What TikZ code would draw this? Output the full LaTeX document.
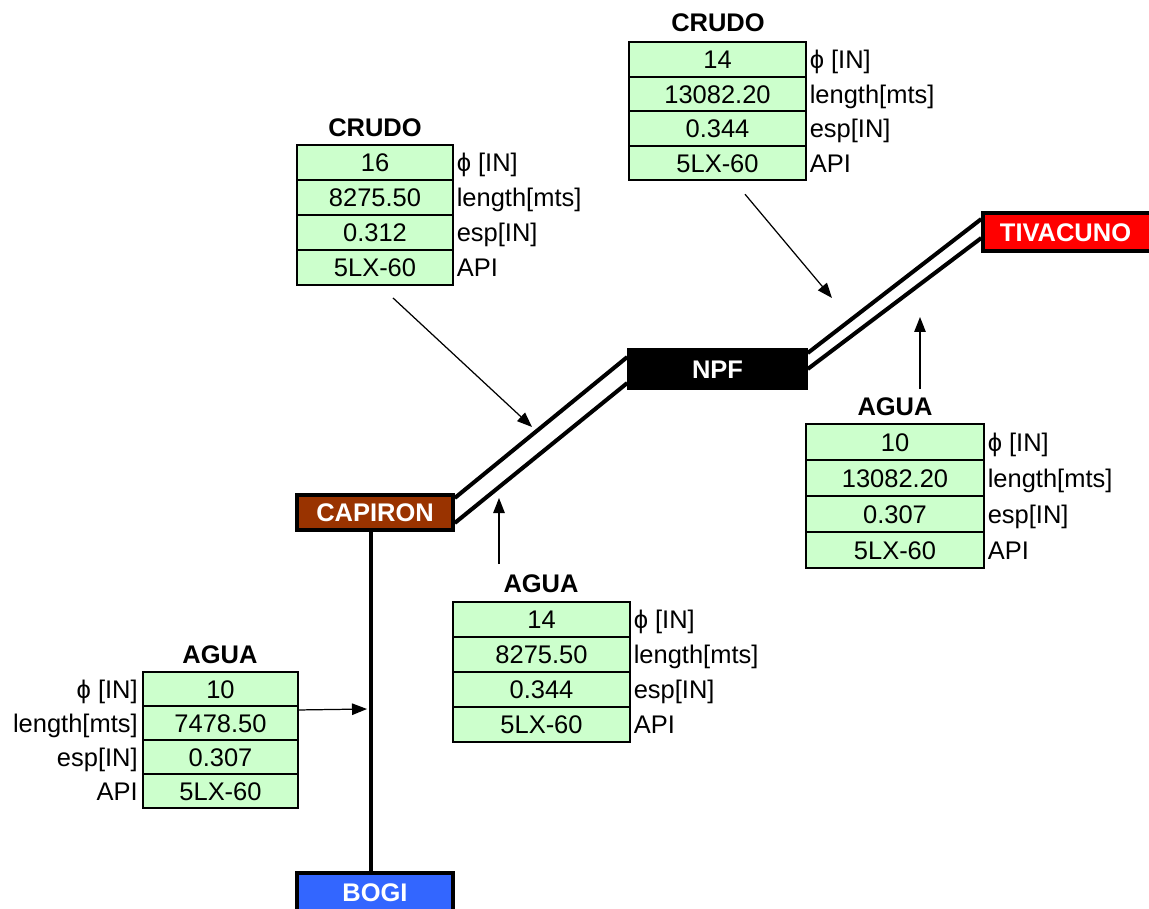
\documentclass[tikz,border=0pt]{standalone}
\usepackage{fontspec}
\setmainfont{Liberation Sans}
\usetikzlibrary{positioning,arrows.meta,backgrounds}
\definecolor{verdecelda}{HTML}{CCFFCC}
\definecolor{marron}{HTML}{993300}
\definecolor{rojo}{HTML}{FF0000}
\definecolor{azul}{HTML}{3366FF}
\begin{document}
\begin{tikzpicture}[x=0.02cm,y=-0.02cm,>={Triangle[length=3mm,width=2.3mm]},
  font=\fontsize{14.5}{16}\selectfont,
  celda/.style={draw,line width=1.1pt,fill=verdecelda,minimum width=3.12cm,
    minimum height=0.7cm,inner sep=0pt,text height=10.4pt,text depth=0pt},
  etiq/.style={inner sep=0pt,text height=10.4pt,text depth=0pt},
  titulo/.style={font=\fontsize{14.5}{16}\selectfont\bfseries,inner sep=0pt},
  estacion/.style={draw,line width=2pt,text=white,inner sep=0pt,
    text height=10.4pt,text depth=0pt,font=\fontsize{14.5}{16}\selectfont\bfseries},
  tubo/.style={line width=2.3pt},
  flecha/.style={->,line width=0.7pt}]
  \useasboundingbox (0,0) rectangle (1149,909);

  % estaciones
  \node[estacion,fill=marron,minimum width=3.12cm,minimum height=0.7cm] (cap) at (375,512.5) {CAPIRON};
  \node[estacion,fill=black,minimum width=3.54cm,minimum height=0.76cm] (npf) at (717.5,369) {NPF};
  \node[estacion,fill=rojo,minimum width=3.54cm,minimum height=0.76cm] (tiv) at (1071.5,232) {TIVACUNO\hspace*{0.24cm}};
  \node[estacion,fill=azul,minimum width=3.12cm,minimum height=0.76cm] (bogi) at (375,892) {BOGI};

  % lineas de tuberia
  \begin{scope}[on background layer]
    \draw[tubo] ([yshift=0.29cm]cap.east) -- ([yshift=0.24cm]npf.west);
    \draw[tubo] ([yshift=-0.21cm]cap.east) -- ([yshift=-0.28cm]npf.west);
    \draw[tubo] ([yshift=0.32cm]npf.east) -- ([yshift=0.26cm]tiv.west);
    \draw[tubo] ([yshift=0cm]npf.east) -- ([yshift=-0.12cm]tiv.west);
    \draw[tubo] ([xshift=-0.08cm]cap.south) -- ([xshift=-0.08cm]bogi.north);
  \end{scope}

  % crudo capiron - npf
  \node[titulo] (t1) at (375,128) {CRUDO};
  \node[celda] (c1a) at (375,162.5) {16};
  \node[celda] (c1b) at (375,197.5) {8275.50};
  \node[celda] (c1c) at (375,232.5) {0.312};
  \node[celda] (c1d) at (375,267.5) {5LX-60};
  \node[etiq,right=0.05cm of c1a] (l1a) {ϕ [IN]};
  \node[etiq,right=0.05cm of c1b] (l1b) {length[mts]};
  \node[etiq,right=0.05cm of c1c] (l1c) {esp[IN]};
  \node[etiq,right=0.05cm of c1d] (l1d) {API};

  % crudo npf - tivacuno
  \node[titulo] (t2) at (718,23) {CRUDO};
  \node[celda,minimum width=3.54cm,minimum height=0.69cm] (c2a) at (717.5,59.5) {14};
  \node[celda,minimum width=3.54cm,minimum height=0.69cm] (c2b) at (717.5,94) {13082.20};
  \node[celda,minimum width=3.54cm,minimum height=0.69cm] (c2c) at (717.5,128.5) {0.344};
  \node[celda,minimum width=3.54cm,minimum height=0.69cm] (c2d) at (717.5,163) {5LX-60};
  \node[etiq,right=0.05cm of c2a] (l2a) {ϕ [IN]};
  \node[etiq,right=0.05cm of c2b] (l2b) {length[mts]};
  \node[etiq,right=0.05cm of c2c] (l2c) {esp[IN]};
  \node[etiq,right=0.05cm of c2d] (l2d) {API};

  % agua npf - tivacuno
  \node[titulo] (t3) at (895,407) {AGUA};
  \node[celda,minimum width=3.56cm,minimum height=0.72cm] (c3a) at (895,442) {10};
  \node[celda,minimum width=3.56cm,minimum height=0.72cm] (c3b) at (895,478) {13082.20};
  \node[celda,minimum width=3.56cm,minimum height=0.72cm] (c3c) at (895,514) {0.307};
  \node[celda,minimum width=3.56cm,minimum height=0.72cm] (c3d) at (895,550) {5LX-60};
  \node[etiq,right=0.05cm of c3a] (l3a) {ϕ [IN]};
  \node[etiq,right=0.05cm of c3b] (l3b) {length[mts]};
  \node[etiq,right=0.05cm of c3c] (l3c) {esp[IN]};
  \node[etiq,right=0.05cm of c3d] (l3d) {API};

  % agua capiron - npf
  \node[titulo] (t4) at (541,584) {AGUA};
  \node[celda,minimum width=3.54cm] (c4a) at (541.5,619.5) {14};
  \node[celda,minimum width=3.54cm] (c4b) at (541.5,654.5) {8275.50};
  \node[celda,minimum width=3.54cm] (c4c) at (541.5,689.5) {0.344};
  \node[celda,minimum width=3.54cm] (c4d) at (541.5,724.5) {5LX-60};
  \node[etiq,right=0.05cm of c4a] (l4a) {ϕ [IN]};
  \node[etiq,right=0.05cm of c4b] (l4b) {length[mts]};
  \node[etiq,right=0.05cm of c4c] (l4c) {esp[IN]};
  \node[etiq,right=0.05cm of c4d] (l4d) {API};

  % agua bogi - capiron
  \node[titulo] (t5) at (220,655) {AGUA};
  \node[celda,minimum width=3.1cm,minimum height=0.68cm] (c5a) at (220.5,689) {10};
  \node[celda,minimum width=3.1cm,minimum height=0.68cm] (c5b) at (220.5,723) {7478.50};
  \node[celda,minimum width=3.1cm,minimum height=0.68cm] (c5c) at (220.5,757) {0.307};
  \node[celda,minimum width=3.1cm,minimum height=0.68cm] (c5d) at (220.5,791) {5LX-60};
  \node[etiq,left=0.08cm of c5a] (l5a) {ϕ [IN]};
  \node[etiq,left=0.08cm of c5b] (l5b) {length[mts]};
  \node[etiq,left=0.08cm of c5c] (l5c) {esp[IN]};
  \node[etiq,left=0.08cm of c5d] (l5d) {API};

  % flechas
  \coordinate (f1) at (532,427);
  \coordinate (f2) at (832,298);
  \coordinate (f3) at (920,317);
  \coordinate (f4) at (499,498);
  \coordinate (f5) at (367,709);
  \draw[flecha] ([shift={(18,12)}]c1d.south) -- (f1);
  \draw[flecha] ([shift={(27.5,13)}]c2d.south) -- (f2);
  \draw[flecha] ([shift={(25,-34)}]c3a.north) -- (f3);
  \draw[flecha] ([shift={(-42.5,-37)}]c4a.north) -- (f4);
  \draw[flecha] ([shift={(0,3)}]c5a.south east) -- (f5);
\end{tikzpicture}
\end{document}
